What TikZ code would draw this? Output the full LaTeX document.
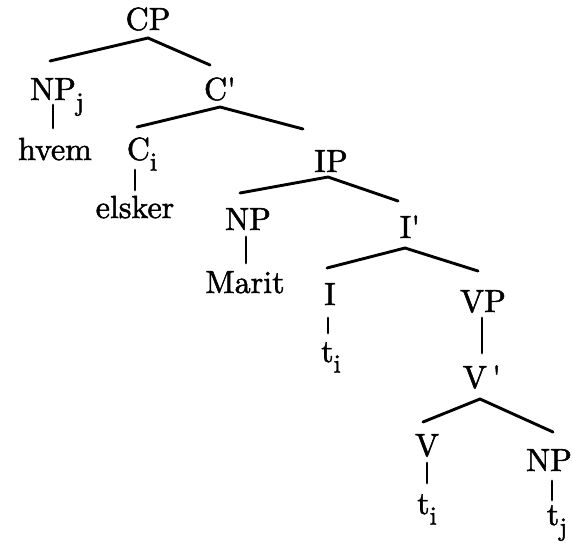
\documentclass[tikz,border=0pt]{standalone}
\usepackage{fontspec}
\newfontface\treefont{lmroman10-regular.otf}[FakeBold=1.6]
\newcommand{\sbs}[1]{\raisebox{-0.33em}{\fontsize{13}{13}\selectfont #1}}
\begin{document}
\begin{tikzpicture}[x=0.5pt,y=-0.5pt,
  lab/.style={anchor=base,inner sep=0pt,font=\treefont\fontsize{16}{18}\selectfont},
  br/.style={line width=1.45pt,line cap=round}]
\useasboundingbox (0,0) rectangle (573,542);
% labels
\node[lab] (CP) at (148,30) {CP};
\node[lab] (NPj) at (57,100) {NP\sbs{j}};
\node[lab] (hvem) at (55,160) {hvem};
\node[lab] (Cbar) at (220,100) {C\textquotesingle};
\node[lab] (Ci) at (142,160) {C\sbs{i}};
\node[lab] (elsker) at (135,218) {elsker};
\node[lab] (IP) at (331,172) {IP};
\node[lab] (NP) at (248,230) {NP};
\node[lab] (Marit) at (245,293) {Marit};
\node[lab] (Ibar) at (410,238) {I\textquotesingle};
\node[lab] (I) at (330,305) {I};
\node[lab] (ti1) at (331,362) {t\sbs{i}};
\node[lab] (VP) at (483,312) {VP};
\node[lab] (Vbar) at (482,388) {V\,\textquotesingle};
\node[lab] (V) at (427,456) {V};
\node[lab] (ti2) at (427,514) {t\sbs{i}};
\node[lab] (NPo) at (549,471) {NP};
\node[lab] (tj) at (557,525) {t\sbs{j}};
% branch points
\coordinate (cpA) at (148,38);
\coordinate (cpL) at (50,61);
\coordinate (cpR) at (210,65);
\coordinate (cbA) at (220,107);
\coordinate (cbL) at (137,127);
\coordinate (cbR) at (303,129);
\coordinate (ipA) at (328,177);
\coordinate (ipL) at (240,193);
\coordinate (ipR) at (398,201);
\coordinate (ibA) at (405,248);
\coordinate (ibL) at (327,268);
\coordinate (ibR) at (478,271);
\coordinate (vbA) at (480,399);
\coordinate (vbL) at (423,422);
\coordinate (vbR) at (553,432);
\coordinate (n1a) at (53,105); \coordinate (n1b) at (53,128);
\coordinate (c1a) at (135,170); \coordinate (c1b) at (135,190);
\coordinate (n2a) at (246,237); \coordinate (n2b) at (246,263);
\coordinate (i1a) at (328,318); \coordinate (i1b) at (328,333);
\coordinate (v1a) at (482,318); \coordinate (v1b) at (482,353);
\coordinate (v2a) at (427,463); \coordinate (v2b) at (427,483);
\coordinate (n3a) at (552,481); \coordinate (n3b) at (552,500);
% branches
\draw[br] (cpL) -- (cpA) -- (cpR);
\draw[br] (cbL) -- (cbA) -- (cbR);
\draw[br] (ipL) -- (ipA) -- (ipR);
\draw[br] (ibL) -- (ibA) -- (ibR);
\draw[br] (vbL) -- (vbA) -- (vbR);
\draw[br] (n1a) -- (n1b);
\draw[br] (c1a) -- (c1b);
\draw[br] (n2a) -- (n2b);
\draw[br] (i1a) -- (i1b);
\draw[br] (v1a) -- (v1b);
\draw[br] (v2a) -- (v2b);
\draw[br] (n3a) -- (n3b);
\end{tikzpicture}
\end{document}
